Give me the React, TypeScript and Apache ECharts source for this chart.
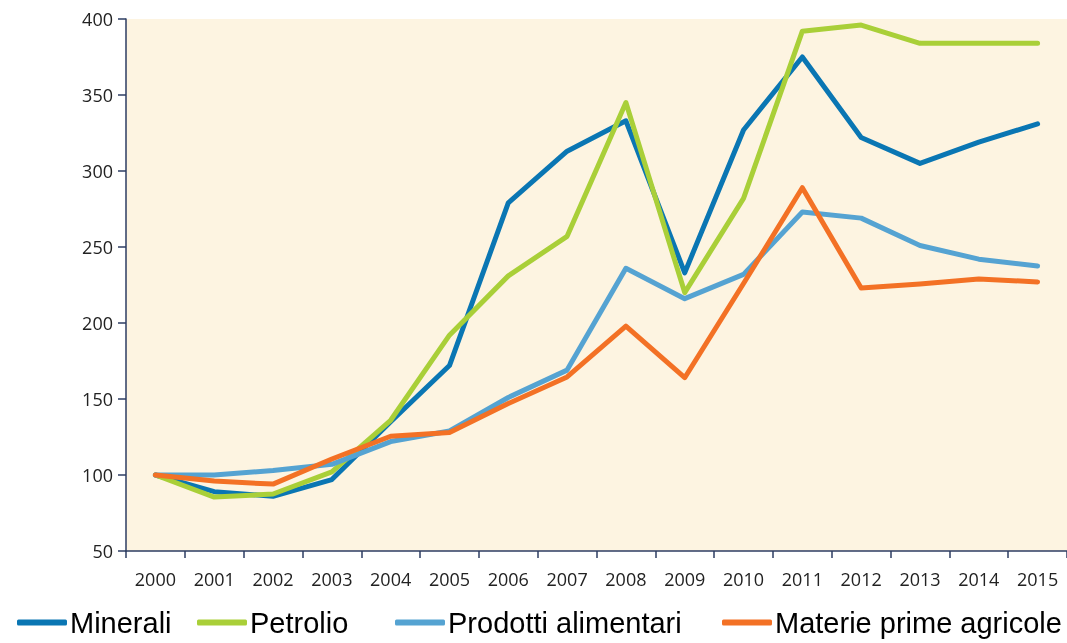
import React, { useEffect, useRef } from "react";
import * as echarts from "echarts";

const years = ["2000","2001","2002","2003","2004","2005","2006","2007","2008","2009","2010","2011","2012","2013","2014","2015"];
const minerali = [100, 89, 86, 97, 135, 172, 279, 313, 333, 233, 327, 375, 322, 305, 319, 331];
const petrolio = [100, 85.5, 87.5, 102, 136, 192, 231, 257, 345, 220, 282, 392, 396, 384, 384, 384];
const prodotti = [100, 100, 103, 107, 122, 129, 151, 169, 236, 216, 232, 273, 269, 251, 242, 237.5];
const materie = [100, 96, 94, 110.5, 125.5, 128, 147, 164.5, 198, 164, 226, 289, 223, 225.7, 229, 227];
const yTicks = { min: 50, max: 400, interval: 50 };

const names = ["Minerali", "Petrolio", "Prodotti alimentari", "Materie prime agricole"];
const colors = ["#0a76b3", "#a9cf38", "#55a3d2", "#f37125"];
const seriesData = [minerali, petrolio, prodotti, materie];
const legendLefts = [12, 192, 390, 717];

export default function App() {
  const ref = useRef<HTMLDivElement>(null);
  useEffect(() => {
    if (!ref.current) return;
    const chart = echarts.init(ref.current, null, { renderer: "svg" });
    const axisColor = "#2c3d62";
    chart.setOption({
      animation: false,
      legend: names.map((n, i) => ({
        bottom: 1,
        left: legendLefts[i],
        itemWidth: 50,
        itemHeight: 6,
        icon: "roundRect",
        textStyle: { fontFamily: "Liberation Sans, Arial", fontSize: 29, color: "#000", padding: [0, 0, 0, -2] },
        data: [n],
      })),
      grid: {
        left: 126,
        top: 19,
        width: 947,
        height: 532,
        show: true,
        backgroundColor: "#fdf4e1",
        borderWidth: 0,
      },
      xAxis: {
        type: "category",
        data: years,
        boundaryGap: true,
        axisLine: { lineStyle: { color: axisColor, width: 1.5 } },
        axisTick: { show: true, length: 7, lineStyle: { color: axisColor, width: 1.5 } },
        axisLabel: { color: "#222", fontFamily: "Open Sans", fontSize: 18, margin: 19, interval: 0 },
      },
      yAxis: {
        type: "value",
        min: yTicks.min,
        max: yTicks.max,
        interval: yTicks.interval,
        axisLine: { show: true, lineStyle: { color: axisColor, width: 1.5 } },
        axisTick: { show: true, length: 8, lineStyle: { color: axisColor, width: 1.5 } },
        axisLabel: { color: "#222", fontFamily: "Open Sans", fontSize: 18, margin: 13 },
        splitLine: { show: false },
      },
      series: names.map((n, i) => ({
        name: n,
        type: "line",
        data: seriesData[i],
        showSymbol: false,
        symbol: "none",
        color: colors[i],
        lineStyle: { width: 5, color: colors[i], join: "round", cap: "round" },
      })),
    });
    return () => chart.dispose();
  }, []);
  return <div ref={ref} style={{ position: "fixed", left: 0, top: 0, width: 1067, height: 643 }} />;
}
